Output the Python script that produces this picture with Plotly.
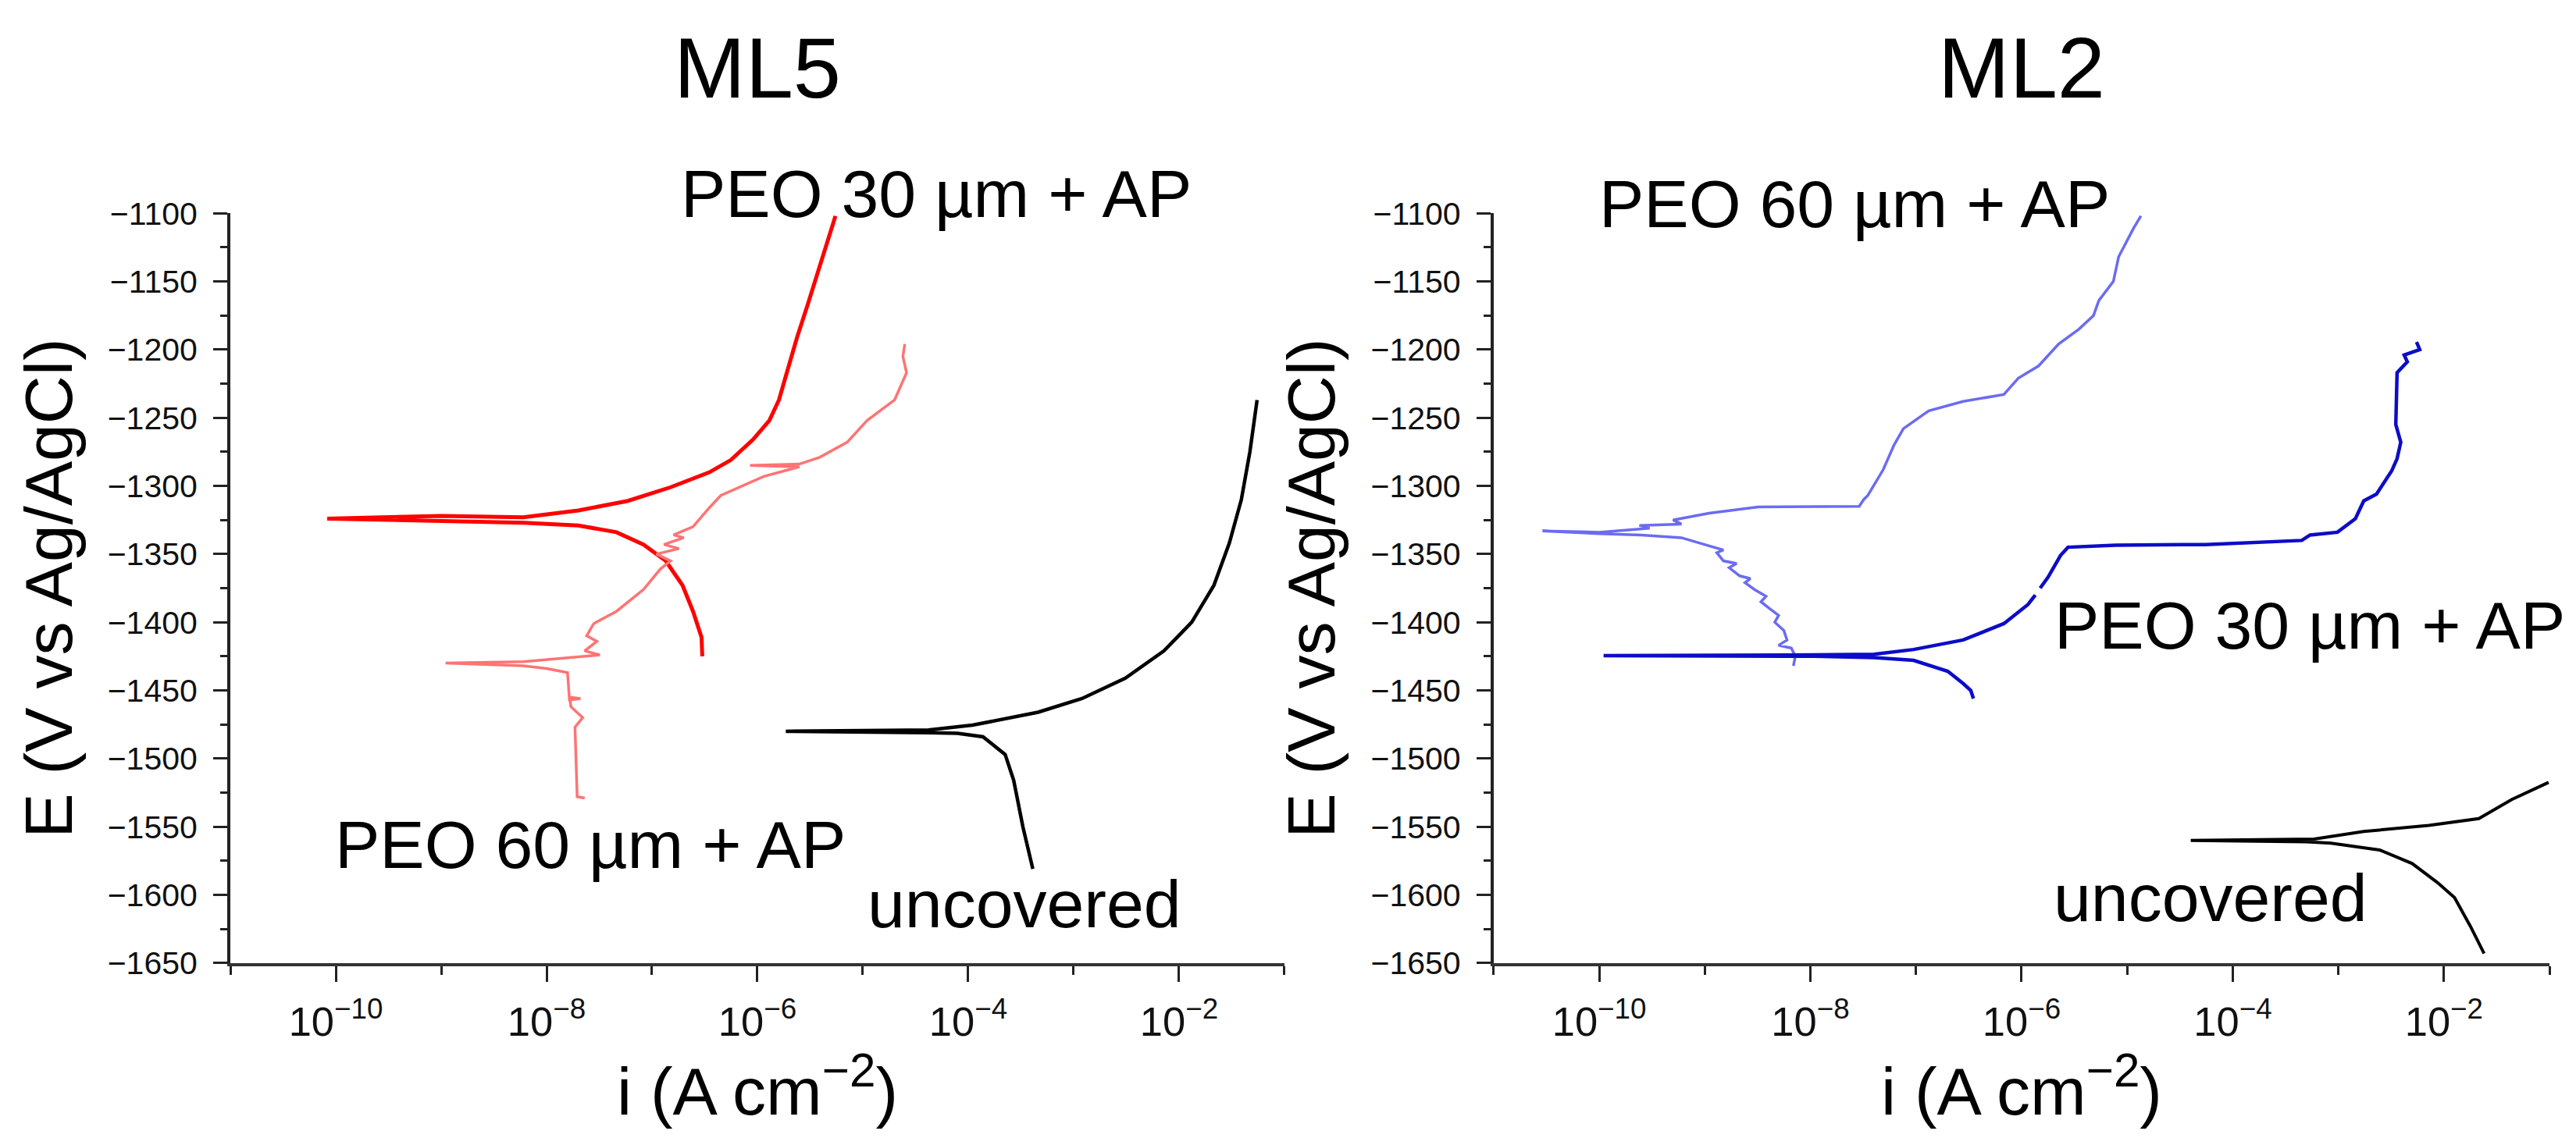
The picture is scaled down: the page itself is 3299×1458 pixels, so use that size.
import plotly.graph_objects as go

# ---- ML5 (left) ----
# PEO 30 um + AP (bright red), scanned from cathodic end to anodic end
ml5_peo30_i = [3.0e-7, 2.95e-7, 2.45e-7, 1.95e-7, 1.35e-7, 8.3e-8, 4.6e-8, 2.0e-8, 6.0e-9,
               1.0e-9, 8.3e-11, 1.0e-9, 6.0e-9, 2.0e-8, 5.9e-8, 1.5e-7, 3.5e-7, 5.6e-7,
               9.1e-7, 1.3e-6, 1.6e-6, 1.9e-6, 2.4e-6, 3.0e-6, 3.9e-6, 4.6e-6, 5.5e-6]
ml5_peo30_e = [-1425, -1411, -1392, -1373, -1355, -1343, -1334, -1329, -1327,
               -1326, -1324, -1322, -1323, -1318, -1311, -1301, -1290, -1281,
               -1266, -1252, -1237, -1217, -1190, -1167, -1139, -1120, -1102]

# PEO 60 um + AP (light red)
ml5_peo60_i = [2.3e-8, 1.95e-8, 1.9e-8, 1.86e-8, 2.2e-8, 1.7e-8, 1.66e-8, 2.1e-8, 1.65e-8,
               1.6e-8, 1.58e-8, 1.0e-8, 6.0e-9, 1.1e-9, 6.0e-9, 3.2e-8, 2.3e-8, 3.0e-8,
               2.4e-8, 2.8e-8, 4.6e-8, 8.3e-8, 1.2e-7, 1.5e-7, 1.1e-7, 1.8e-7, 1.3e-7,
               2.0e-7, 1.6e-7, 2.45e-7, 3.5e-7, 4.5e-7, 1.15e-6, 2.5e-6, 8.5e-7, 2.5e-6,
               3.9e-6, 7.1e-6, 1.1e-5, 2.0e-5, 2.6e-5, 2.4e-5, 2.5e-5]
ml5_peo60_e = [-1529, -1528, -1500, -1477, -1470, -1462, -1455, -1456, -1457,
               -1440, -1437, -1434, -1432, -1430, -1429, -1424, -1421, -1414,
               -1410, -1401, -1392, -1376, -1361, -1355, -1350, -1346, -1343,
               -1338, -1336, -1330, -1316, -1307, -1293, -1286, -1285, -1284,
               -1279, -1268, -1252, -1237, -1217, -1205, -1196]

# uncovered (black)
ml5_unc_i = [4.1e-4, 3.3e-4, 2.7e-4, 2.24e-4, 1.38e-4, 7.9e-5, 4.2e-5, 1.0e-5, 1.86e-6,
             1.0e-5, 4.2e-5, 1.1e-4, 4.6e-4, 1.2e-3, 3.1e-3, 7.2e-3, 1.32e-2, 2.14e-2,
             3.0e-2, 3.9e-2, 4.7e-2, 5.5e-2]
ml5_unc_e = [-1581, -1550, -1516, -1497, -1484, -1481.5, -1481, -1480.5, -1480,
             -1479.5, -1479, -1475.5, -1466, -1456, -1441, -1421, -1400, -1373,
             -1342, -1310, -1275, -1237]

# ---- ML2 (right) ----
# PEO 60 um + AP (light blue)
ml2_peo60_i = [6.9e-9, 7.2e-9, 6.6e-9, 5.0e-9, 6.0e-9, 5.6e-9, 4.6e-9, 5.0e-9, 4.1e-9,
               3.4e-9, 3.8e-9, 2.95e-9, 2.4e-9, 2.7e-9, 2.14e-9, 1.7e-9, 2.0e-9, 1.5e-9,
               1.3e-9, 1.5e-9, 1.1e-9, 6.0e-10, 2.5e-10, 1.0e-10, 2.9e-11, 1.0e-10,
               3.0e-10, 2.4e-10, 6.0e-10, 5.0e-10, 1.1e-9, 3.2e-9, 2.9e-8, 3.2e-8,
               3.5e-8, 4.9e-8, 6.2e-8, 7.6e-8, 1.32e-7, 2.8e-7, 6.8e-7, 9.3e-7,
               1.45e-6, 2.24e-6, 3.5e-6, 4.8e-6, 5.4e-6, 7.4e-6, 8.3e-6, 1.15e-5, 1.35e-5]
ml2_peo60_e = [-1432, -1425, -1419, -1417, -1413, -1406, -1400, -1395, -1390,
               -1385, -1381, -1376, -1371, -1368, -1366, -1360, -1357, -1355,
               -1349, -1347, -1344, -1338, -1336, -1335, -1333, -1334,
               -1331, -1329, -1328, -1325, -1320, -1315.5, -1315, -1310,
               -1307, -1288, -1270, -1258, -1245, -1238, -1233, -1221,
               -1212, -1196, -1185, -1175, -1164, -1150, -1132, -1111, -1102]

# PEO 30 um + AP (dark blue); None marks the small break in the recorded curve
ml2_peo30_i = [3.5e-7, 3.3e-7, 2.8e-7, 2.0e-7, 9.5e-8, 4.0e-8, 1.1e-8, 1.1e-10, 1.1e-8,
               4.0e-8, 9.5e-8, 2.8e-7, 6.8e-7, 1.15e-6, 1.35e-6, None, 1.5e-6, 1.78e-6,
               2.34e-6, 2.75e-6, 7.8e-6, 5.5e-5, 4.5e-4, 5.4e-4, 9.8e-4, 1.45e-3,
               1.74e-3, 2.3e-3, 3.2e-3, 3.6e-3, 3.9e-3, 3.5e-3, 3.6e-3, 4.5e-3,
               4.2e-3, 5.9e-3, 5.5e-3]
ml2_peo30_e = [-1456, -1450, -1445, -1436, -1428, -1426, -1425, -1424.5, -1424,
               -1423.5, -1420, -1413, -1401, -1387, -1380, None, -1375, -1367,
               -1351, -1345, -1343.5, -1343, -1340, -1336, -1334, -1324,
               -1311, -1306, -1289, -1280, -1268, -1255, -1217, -1209,
               -1204, -1200, -1194.5]

# uncovered (black)
ml2_unc_i = [2.4e-2, 1.78e-2, 1.26e-2, 8.7e-3, 5.0e-3, 2.45e-3, 8.5e-4, 5.0e-4, 4.0e-5,
             5.9e-4, 1.74e-3, 7.2e-3, 2.14e-2, 4.4e-2, 9.8e-2]
ml2_unc_e = [-1643, -1623, -1602, -1591, -1577, -1567, -1562, -1561, -1560,
             -1559, -1553.5, -1549, -1544, -1530, -1517.5]

FONT = "Liberation Sans, Arial, sans-serif"

fig = go.Figure()

traces = [
    (ml5_peo30_i, ml5_peo30_e, "#ff0000", 5, "x", "y"),
    (ml5_peo60_i, ml5_peo60_e, "#ff7373", 3.5, "x", "y"),
    (ml5_unc_i, ml5_unc_e, "#000000", 4.5, "x", "y"),
    (ml2_peo60_i, ml2_peo60_e, "#6b6bf2", 3.5, "x2", "y2"),
    (ml2_peo30_i, ml2_peo30_e, "#0c0cc8", 4.5, "x2", "y2"),
    (ml2_unc_i, ml2_unc_e, "#000000", 4, "x2", "y2"),
]
for xs, ys, col, w, xa, ya in traces:
    fig.add_trace(go.Scatter(x=xs, y=ys, mode="lines", xaxis=xa, yaxis=ya,
                             line=dict(color=col, width=w), showlegend=False,
                             connectgaps=False))

xaxis_style = dict(
    type="log", range=[-11, -1], dtick=2, tick0=0, exponentformat="power",
    showgrid=False, zeroline=False, showline=True, linewidth=4, linecolor="#333",
    ticks="outside", ticklen=20, tickwidth=3, tickcolor="#222",
    tickfont=dict(family=FONT, size=42, color="#111"), ticklabelstandoff=8,
    minor=dict(dtick=1, tick0=0, ticks="outside", ticklen=11, tickwidth=3, tickcolor="#222"),
    title=dict(text="i (A cm<sup>−2</sup>)", font=dict(family=FONT, size=86, color="black"),
               standoff=22),
)
yaxis_style = dict(
    range=[-1650, -1100], dtick=50, tick0=-1100,
    showgrid=False, zeroline=False, showline=True, linewidth=4, linecolor="#222",
    ticks="outside", ticklen=18, tickwidth=3, tickcolor="#222",
    tickfont=dict(family=FONT, size=41, color="#111"), ticklabelstandoff=12,
    minor=dict(dtick=25, tick0=-1100, ticks="outside", ticklen=9, tickwidth=3, tickcolor="#222"),
    title=dict(text="E (V vs Ag/AgCl)", font=dict(family=FONT, size=86, color="black"),
               standoff=18),
)

fig.update_layout(
    width=3299, height=1458,
    margin=dict(l=0, r=0, t=0, b=0),
    paper_bgcolor="white", plot_bgcolor="white",
    font=dict(family=FONT, color="black"),
    xaxis=dict(xaxis_style, domain=[0.087, 0.4962], anchor="y"),
    yaxis=dict(yaxis_style, domain=[0.1481, 0.8285], anchor="x"),
    xaxis2=dict(xaxis_style, domain=[0.5774, 0.9873], anchor="y2"),
    yaxis2=dict(yaxis_style, domain=[0.1481, 0.8285], anchor="x2"),
)

# panel titles
for ref, txt in [("x", "ML5"), ("x2", "ML2")]:
    fig.add_annotation(text=txt, xref=f"{ref} domain", x=0.5, yref="paper", y=0.961,
                       xanchor="center", yanchor="middle", showarrow=False,
                       font=dict(family=FONT, size=110, color="black"))

# curve labels: x in log10 units, y in domain fraction (some sit above the axis range)
labels = [
    ("PEO 30 µm + AP", "x", "y domain", -4.30, 1.026),
    ("PEO 60 µm + AP", "x", "y domain", -7.585, 0.158),
    ("uncovered", "x", "y domain", -3.467, 0.079),
    ("PEO 60 µm + AP", "x2", "y2 domain", -7.585, 1.013),
    ("PEO 30 µm + AP", "x2", "y2 domain", -3.27, 0.451),
    ("uncovered", "x2", "y2 domain", -4.21, 0.087),
]
for txt, xr, yr, xv, yv in labels:
    fig.add_annotation(text=txt, xref=xr, yref=yr, x=xv, y=yv, showarrow=False,
                       xanchor="center", yanchor="middle",
                       font=dict(family=FONT, size=86, color="black"))

fig.write_html("out.html")
